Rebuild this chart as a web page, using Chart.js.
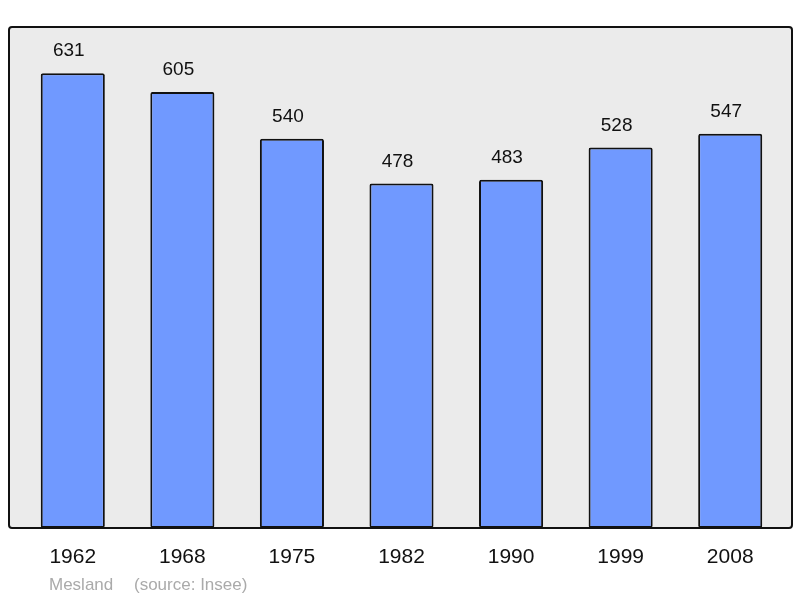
<!DOCTYPE html>
<html>
<head>
<meta charset="utf-8">
<script src="https://cdn.jsdelivr.net/npm/chart.js@4/dist/chart.umd.min.js"></script>
<style>
  html, body { margin: 0; padding: 0; background: #fff; }
  #wrap { position: relative; width: 800px; height: 598px; }
</style>
</head>
<body>
<div id="wrap"><canvas id="popChart" width="800" height="598"></canvas></div>
<script>
const years = ["1962", "1968", "1975", "1982", "1990", "1999", "2008"];
const population = [631, 605, 540, 478, 483, 528, 547];
const townName = "Mesland";
const sourceNote = "(source: Insee)";

// gray frame behind the bars + value labels + footer text
const framePlugin = {
    id: "frame",
    beforeDraw(chart) {
        const { ctx, chartArea: a } = chart;
        const x0 = a.left - 9, x1 = a.right + 7, y0 = a.top, y1 = a.bottom;
        ctx.save();
        ctx.fillStyle = "#fff";
        ctx.fillRect(0, 0, chart.width, chart.height);
        ctx.beginPath();
        ctx.roundRect(x0, y0, x1 - x0, y1 - y0, 3);
        ctx.fillStyle = "#ebebeb";
        ctx.fill();
        ctx.restore();
    },
    afterDatasetsDraw(chart) {
        const { ctx, chartArea: a } = chart;
        const x0 = a.left - 9, x1 = a.right + 7, y0 = a.top, y1 = a.bottom;
        ctx.save();
        ctx.beginPath();
        ctx.roundRect(x0, y0, x1 - x0, y1 - y0, 3);
        ctx.lineWidth = 2;
        ctx.strokeStyle = "#111";
        ctx.stroke();

        ctx.fillStyle = "#111";
        ctx.font = "19px 'Liberation Sans', Arial, sans-serif";
        ctx.textAlign = "center";
        ctx.textBaseline = "middle";
        chart.getDatasetMeta(0).data.forEach((bar, i) => {
            ctx.fillText(String(population[i]), bar.x - 4, bar.y - 22);
        });

        ctx.fillStyle = "#aaaaaa";
        ctx.font = "17px 'Liberation Sans', Arial, sans-serif";
        ctx.textAlign = "left";
        ctx.fillText(townName, 49, 585);
        ctx.fillText(sourceNote, 134, 585);
        ctx.restore();
    }
};

new Chart(document.getElementById("popChart").getContext("2d"), {
    type: "bar",
    data: {
        labels: years,
        datasets: [{
            data: population,
            backgroundColor: "#7099ff",
            borderColor: "#111",
            borderWidth: 2,
            borderSkipped: false,
            borderRadius: 2,
            barPercentage: 0.585,
            categoryPercentage: 1
        }]
    },
    options: {
        responsive: false,
        animation: false,
        layout: { padding: { left: 18, right: 15, top: 27, bottom: 0 } },
        plugins: {
            legend: { display: false },
            tooltip: { enabled: false }
        },
        scales: {
            x: {
                grid: { display: false, drawTicks: false },
                border: { display: false },
                ticks: {
                    color: "#111",
                    padding: 17,
                    font: { size: 21, family: "'Liberation Sans', Arial, sans-serif" }
                },
                afterFit(scale) { scale.height = 70; }
            },
            y: {
                display: false,
                min: 0,
                max: 695
            }
        }
    },
    plugins: [framePlugin]
});
</script>
</body>
</html>
